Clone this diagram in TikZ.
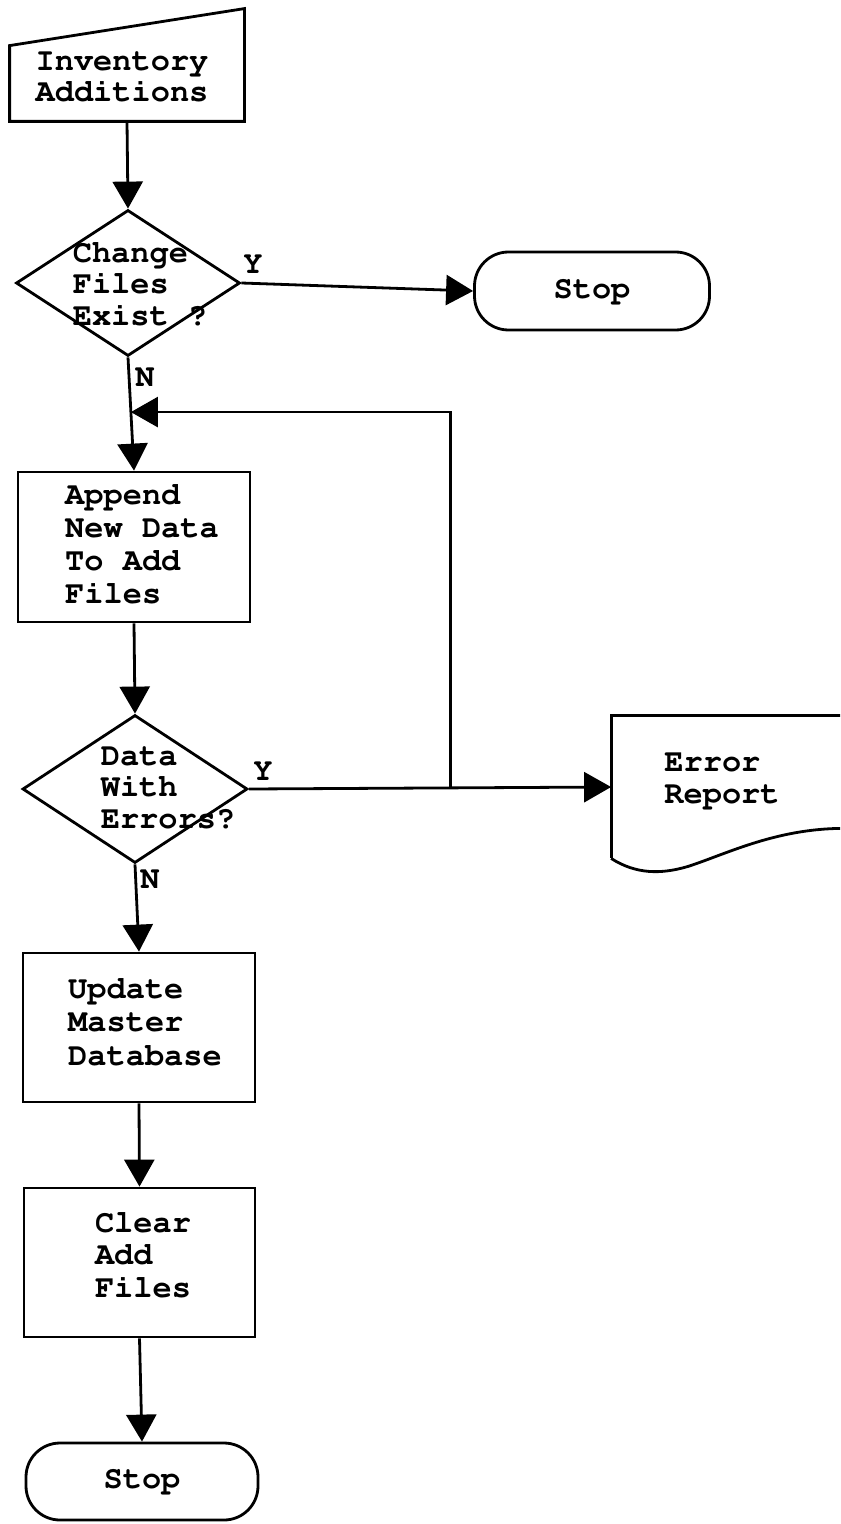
\documentclass[tikz,border=0pt]{standalone}
\usepackage[T1]{fontenc}
\usepackage{fontspec}
\newcommand\flowfont{\fontencoding{T1}\fontfamily{pcr}\fontseries{b}\fontshape{n}\selectfont}
\usetikzlibrary{shapes.geometric,arrows.meta,calc}
\begin{document}
\begin{tikzpicture}[x=0.5pt,y=-0.5pt,line width=1.4pt,
  box/.style={draw,rectangle,inner sep=0pt},
  decision/.style={draw,diamond,inner sep=0pt},
  terminal/.style={draw,rectangle,rounded corners=17pt,inner sep=0pt,
    font=\flowfont\fontsize{16}{16}\selectfont},
  frame/.style={inner sep=0pt},
  txt/.style={font=\flowfont\fontsize{16}{#1}\selectfont,align=left,inner sep=0pt},
  txt/.default=16,
  yn/.style={font=\flowfont\fontsize{16}{16}\selectfont,inner sep=0pt},
  flow/.style={-{Triangle[length=13.5pt,width=15pt]}}]

\clip (0,0) rectangle (840,1524);

% manual input: Inventory Additions
\node[frame,minimum width=116pt,minimum height=55pt] (inv) at (127,65) {};
\draw (inv.south west) -- (inv.south east) -- (inv.north east)
      -- ($(inv.north west)+(0,37)$) -- cycle;
\node[txt=15.5] (inv-t) at (122,77) {Inventory\\Additions};

% first decision
\node[decision,minimum width=112pt,minimum height=73pt] (d1) at (128,283) {};
\node[txt=15.75] (d1-t) at (140,284) {Change\\Files\\Exist ?};

% stop on existing change files
\node[terminal,minimum width=117.5pt,minimum height=39pt] (stop1) at (592,291) {Stop};

% append step
\node[box,minimum width=116pt,minimum height=75pt] (append) at (134,547) {};
\node[txt=16.5] (append-t) at (142,544) {Append\\New Data\\To Add\\Files};

% second decision
\node[decision,minimum width=112.5pt,minimum height=74pt] (d2) at (135,789) {};
\node[txt=15.75] (d2-t) at (168,788) {Data\\With\\Errors?};

% document: Error Report
\node[frame,minimum width=128.5pt,minimum height=70pt] (err) at (741,787) {};
\draw (err.north east) -- (err.north west) -- (err.south west);
\begin{scope}[shift={(err.south west)}]
  \draw (0,0) .. controls (25,16) and (50,16) .. (77,8)
        .. controls (117,-5) and (167,-31) .. (237,-30) -- (257,-30);
\end{scope}
\node[txt=16] (err-t) at (722,781) {Error\\Report};

% update step
\node[box,minimum width=116pt,minimum height=74.5pt] (update) at (139,1027.5) {};
\node[txt=16.75] (update-t) at (145,1022) {Update\\Master\\Database};

% clear step
\node[box,minimum width=115.5pt,minimum height=74.5pt] (clear) at (139.5,1262.5) {};
\node[txt=16.25] (clear-t) at (143,1255) {Clear\\Add\\Files};

% final stop
\node[terminal,minimum width=116pt,minimum height=38.5pt] (stop2) at (142,1481.5) {Stop};

% connectors
\draw[flow] (inv.south) -- (d1.north);
\draw[flow] (d1.east) -- (stop1.west);
\draw[flow] (d1.south) -- (append.north);
\draw[flow] (append.south) -- (d2.north);
\draw[flow] (d2.east) -- (err.west);
\coordinate (j) at ($(d2.east)!0.556!(err.west)$);
\coordinate (fbtip) at ($(d1.south)!0.483!(append.north)$);
\draw[flow] (j) |- (fbtip);
\draw[flow] (d2.south) -- (update.north);
\draw[flow] (update.south) -- (clear.north);
\draw[flow] (clear.south) -- (stop2.north);

% branch labels
\node[yn] (y1) at (253,265) {Y};
\node[yn] (n1) at (145,378) {N};
\node[yn] (y2) at (263,772) {Y};
\node[yn] (n2) at (150,880) {N};
\end{tikzpicture}
\end{document}
